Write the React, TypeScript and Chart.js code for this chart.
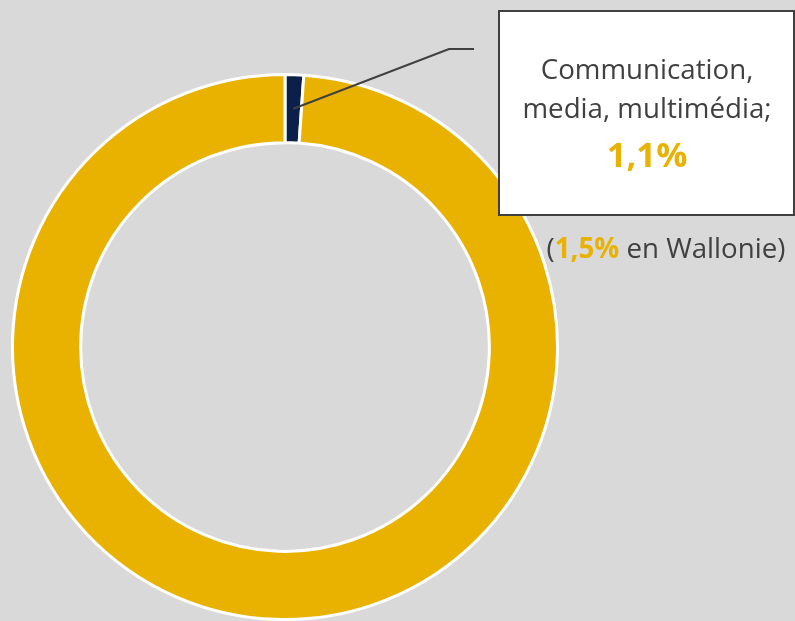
import React, { useEffect, useRef } from "react";
import { Chart, registerables } from "chart.js";

Chart.register(...registerables);

const categories = ["Communication, media, multimédia", "Autres secteurs"];
const values = [1.1, 98.9];
const colors = ["#0B1F4B", "#E9B200"];
const labelLines = ["Communication,", "media, multimédia;"];
const valueLabel = "1,1%";
const walloniaValue = "1,5%";
const walloniaText = " en Wallonie)";

const FONT = "'Open Sans', 'Noto Sans', sans-serif";
const TEXT_COLOR = "#404040";
const GOLD = "#E9B200";

const annotationPlugin = {
  id: "annotation",
  beforeDraw(chart: any) {
    const ctx = chart.ctx;
    ctx.save();
    ctx.fillStyle = "#D9D9D9";
    ctx.fillRect(0, 0, chart.width, chart.height);
    ctx.restore();
  },
  afterDraw(chart: any) {
    const ctx = chart.ctx;
    const arc = chart.getDatasetMeta(0).data[0];
    if (!arc) return;
    const p = arc.getProps(["x", "y", "startAngle", "endAngle", "innerRadius", "outerRadius"], true);
    const mid = (p.startAngle + p.endAngle) / 2;
    const r = (p.innerRadius + p.outerRadius) / 2;
    const sx = p.x + Math.cos(mid) * r;
    const sy = p.y + Math.sin(mid) * r;

    ctx.save();
    ctx.strokeStyle = "#404040";
    ctx.lineWidth = 2;
    ctx.beginPath();
    ctx.moveTo(sx, sy);
    ctx.lineTo(449, 49);
    ctx.lineTo(474, 49);
    ctx.stroke();

    ctx.fillStyle = "#FFFFFF";
    ctx.fillRect(499, 11, 295, 204);
    ctx.strokeStyle = "#404040";
    ctx.lineWidth = 2;
    ctx.strokeRect(499, 11, 295, 204);

    // fit the regular font so the first line is about as wide as in the reference
    ctx.font = `30px ${FONT}`;
    const base = ctx.measureText(labelLines[0]).width;
    const size = Math.round((30 * 213) / base * 10) / 10;

    const cx = 647;
    ctx.textAlign = "center";
    ctx.textBaseline = "alphabetic";
    ctx.fillStyle = TEXT_COLOR;
    ctx.font = `${size}px ${FONT}`;
    ctx.fillText(labelLines[0], cx, 79);
    ctx.fillText(labelLines[1], cx, 118);

    ctx.fillStyle = GOLD;
    ctx.font = `bold ${size * 1.25}px ${FONT}`;
    ctx.fillText(valueLabel, cx, 167);

    const regFont = `${size}px ${FONT}`;
    const boldFont = `bold ${size}px ${FONT}`;
    ctx.font = regFont;
    const w1 = ctx.measureText("(").width;
    const w3 = ctx.measureText(walloniaText).width;
    ctx.font = boldFont;
    const w2 = ctx.measureText(walloniaValue).width;
    const total = w1 + w2 + w3;
    let x = 666 - total / 2;
    ctx.textAlign = "left";
    ctx.font = regFont;
    ctx.fillStyle = TEXT_COLOR;
    ctx.fillText("(", x, 258);
    x += w1;
    ctx.font = boldFont;
    ctx.fillStyle = GOLD;
    ctx.fillText(walloniaValue, x, 258);
    x += w2;
    ctx.font = regFont;
    ctx.fillStyle = TEXT_COLOR;
    ctx.fillText(walloniaText, x, 258);
    ctx.restore();
  },
};

export default function App() {
  const ref = useRef<HTMLCanvasElement>(null);
  useEffect(() => {
    document.body.style.margin = "0";
    document.body.style.background = "#D9D9D9";
    if (!ref.current) return;
    const chart = new Chart(ref.current, {
      type: "doughnut",
      data: {
        labels: categories,
        datasets: [
          {
            data: values,
            backgroundColor: colors,
            borderColor: "#FFFFFF",
            borderWidth: 3,
          },
        ],
      },
      options: {
        animation: false,
        responsive: false,
        cutout: "75%",
        rotation: 0,
        layout: { padding: { left: 11, right: 236, top: 73, bottom: 0 } },
        plugins: {
          legend: { display: false },
          tooltip: { enabled: false },
        },
      },
      plugins: [annotationPlugin],
    });
    return () => chart.destroy();
  }, []);
  return (
    <div style={{ width: 795, height: 621, overflow: "hidden" }}>
      <canvas ref={ref} width={795} height={621} style={{ display: "block", width: 795, height: 621 }} />
    </div>
  );
}
